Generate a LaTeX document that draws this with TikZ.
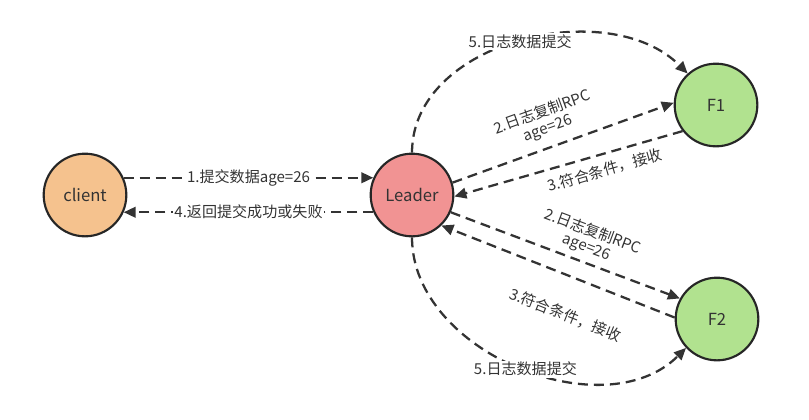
\documentclass[tikz,border=0pt]{standalone}
\usepackage{fontspec}
\setmainfont{Noto Sans CJK SC}
\usetikzlibrary{arrows.meta}
\definecolor{clientfill}{HTML}{F5C28E}
\definecolor{leaderfill}{HTML}{F19393}
\definecolor{followerfill}{HTML}{B1E28F}
\definecolor{ink}{HTML}{333333}
\tikzset{peer/.style={circle, draw=black!85, line width=1.6pt, minimum size=62pt, inner sep=0pt, text=ink, font=\fontsize{12.5}{14}\selectfont}, msg/.style={draw=ink, line width=1.7pt, dash pattern=on 7.5pt off 4.5pt, -{Triangle[length=9pt,width=8pt]}}, lbl/.style={text=ink, font=\fontsize{11.3}{12.5}\selectfont, inner sep=1pt, align=center}}

\begin{document}
\begin{tikzpicture}[x=0.75pt, y=-0.75pt]
    \useasboundingbox (0,0) rectangle (809,419);
    \node[peer, fill=clientfill] (C) at (85,195) {client};
    \node[peer, fill=leaderfill] (L) at (412,195) {Leader};
    \node[peer, fill=followerfill] (F1) at (716,105) {F1};
    \node[peer, fill=followerfill] (F2) at (717,319) {F2};
    % client <-> leader
    \draw[msg] (C.24) -- (L.156) node[lbl, midway, fill=white] {1.提交数据age=26};
    \draw[msg] (L.-156) -- (C.-24) node[lbl, midway, fill=white] {4.返回提交成功或失败};
    % leader <-> followers
    \draw[msg] (L.17) -- (F1.177) node[lbl, pos=0.46, sloped, above=6pt] {2.日志复制RPC\\age=26};
    \draw[msg] (F1.218) -- (L.-2) node[lbl, pos=0.36, sloped, below=5pt] {3.符合条件，接收};
    \draw[msg] (L.-24) -- (F2.151) node[lbl, pos=0.57, sloped, above=3pt] {2.日志复制RPC\\age=26};
    \draw[msg] (F2.178) -- (L.-46) node[lbl, pos=0.41, sloped, below=21pt] {3.符合条件，接收};
    % commit
    \draw[msg] (L.north) to[out=90, in=135, looseness=1.0] node[lbl, pos=0.5, fill=white] {5.日志数据提交} (F1.132);
    \draw[msg] (L.south) to[out=-90, in=-135, looseness=1.0] node[lbl, pos=0.52, fill=white] {5.日志数据提交} (F2.-137);
\end{tikzpicture}
\end{document}
